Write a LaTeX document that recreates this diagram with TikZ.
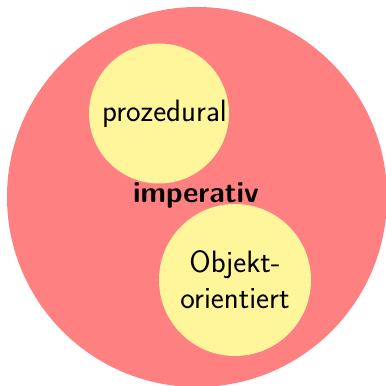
\documentclass[tikz,border=0pt]{standalone}
\usetikzlibrary{positioning}
\definecolor{outerFill}{HTML}{FF8080}
\definecolor{innerFill}{HTML}{FFF59A}
\tikzset{
  venn/.style = {
    font=\sffamily\fontsize{31}{36}\selectfont,
  },
  outer/.style = {
    circle, fill=outerFill, minimum size=380bp, inner sep=0pt,
  },
  inner/.style = {
    circle, fill=innerFill, inner sep=0pt, align=center,
  },
}
\begin{document}
\begin{tikzpicture}[venn, x=1bp, y=1bp]
\useasboundingbox (0,0) rectangle (386,386);

\node[outer] (imp) at (197,189) {};
\node[inner, minimum size=140bp] (proz) at (159,272.5) {};
\node (prozt) at ([xshift=5.5bp]proz.center) {prozedural};
\node[inner, minimum size=152bp] (oop) at (235,106) {Objekt-\\orientiert};
\node[font=\sffamily\bfseries\fontsize{29.5}{36}\selectfont, anchor=base]
  (lbl) at (196,184) {imperativ};

\end{tikzpicture}
\end{document}
